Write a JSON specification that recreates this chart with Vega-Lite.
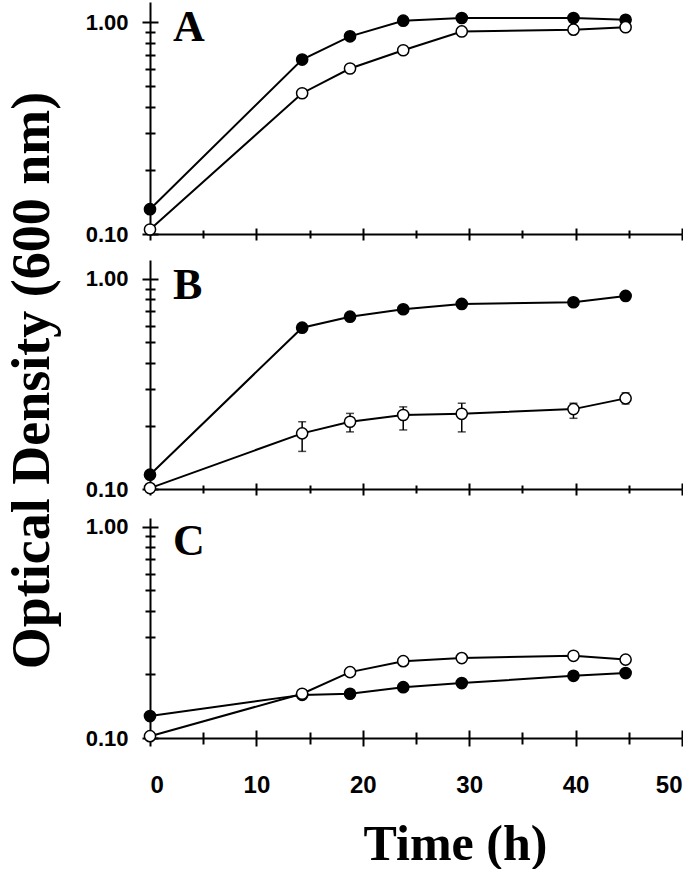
{
  "$schema": "https://vega.github.io/schema/vega-lite/v6.json",
  "background": "white",
  "padding": {"left": 6, "top": 2, "right": 0, "bottom": 0},
  "config": {
    "view": {"stroke": null},
    "axis": {
      "grid": false,
      "domainColor": "black",
      "domainWidth": 2,
      "tickColor": "black",
      "tickWidth": 2,
      "labelColor": "black",
      "labelFont": "Liberation Sans",
      "labelFontWeight": "bold",
      "titleColor": "black"
    }
  },
  "title": {
    "text": "Optical Density (600 nm)",
    "orient": "left",
    "anchor": "middle",
    "frame": "bounds",
    "font": "Liberation Serif",
    "fontSize": 54,
    "fontWeight": "bold",
    "color": "black",
    "offset": 25,
    "dx": 55
  },
  "data": {
    "values": [
      {"panel": "A", "series": "filled", "time": 0, "od": 0.131},
      {"panel": "A", "series": "filled", "time": 14.3, "od": 0.668},
      {"panel": "A", "series": "filled", "time": 18.8, "od": 0.86},
      {"panel": "A", "series": "filled", "time": 23.8, "od": 1.02},
      {"panel": "A", "series": "filled", "time": 29.3, "od": 1.05},
      {"panel": "A", "series": "filled", "time": 39.8, "od": 1.05},
      {"panel": "A", "series": "filled", "time": 44.7, "od": 1.03},
      {"panel": "A", "series": "open", "time": 0, "od": 0.105},
      {"panel": "A", "series": "open", "time": 14.3, "od": 0.463},
      {"panel": "A", "series": "open", "time": 18.8, "od": 0.606},
      {"panel": "A", "series": "open", "time": 23.8, "od": 0.739},
      {"panel": "A", "series": "open", "time": 29.3, "od": 0.907},
      {"panel": "A", "series": "open", "time": 39.8, "od": 0.925},
      {"panel": "A", "series": "open", "time": 44.7, "od": 0.95},
      {"panel": "B", "series": "filled", "time": 0, "od": 0.117},
      {"panel": "B", "series": "filled", "time": 14.3, "od": 0.586},
      {"panel": "B", "series": "filled", "time": 18.8, "od": 0.661},
      {"panel": "B", "series": "filled", "time": 23.8, "od": 0.717},
      {"panel": "B", "series": "filled", "time": 29.3, "od": 0.76},
      {"panel": "B", "series": "filled", "time": 39.8, "od": 0.774},
      {"panel": "B", "series": "filled", "time": 44.7, "od": 0.83},
      {"panel": "B", "series": "open", "time": 0, "od": 0.101},
      {"panel": "B", "series": "open", "time": 14.3, "od": 0.184, "lo": 0.151, "hi": 0.209},
      {"panel": "B", "series": "open", "time": 18.8, "od": 0.209, "lo": 0.187, "hi": 0.229},
      {"panel": "B", "series": "open", "time": 23.8, "od": 0.225, "lo": 0.191, "hi": 0.246},
      {"panel": "B", "series": "open", "time": 29.3, "od": 0.228, "lo": 0.187, "hi": 0.256},
      {"panel": "B", "series": "open", "time": 39.8, "od": 0.24, "lo": 0.217, "hi": 0.256},
      {"panel": "B", "series": "open", "time": 44.7, "od": 0.27, "lo": 0.254, "hi": 0.287},
      {"panel": "C", "series": "filled", "time": 0, "od": 0.127},
      {"panel": "C", "series": "filled", "time": 14.3, "od": 0.16},
      {"panel": "C", "series": "filled", "time": 18.8, "od": 0.162},
      {"panel": "C", "series": "filled", "time": 23.8, "od": 0.174},
      {"panel": "C", "series": "filled", "time": 29.3, "od": 0.182},
      {"panel": "C", "series": "filled", "time": 39.8, "od": 0.197},
      {"panel": "C", "series": "filled", "time": 44.7, "od": 0.203},
      {"panel": "C", "series": "open", "time": 0, "od": 0.102},
      {"panel": "C", "series": "open", "time": 14.3, "od": 0.162},
      {"panel": "C", "series": "open", "time": 18.8, "od": 0.205},
      {"panel": "C", "series": "open", "time": 23.8, "od": 0.231},
      {"panel": "C", "series": "open", "time": 29.3, "od": 0.239},
      {"panel": "C", "series": "open", "time": 39.8, "od": 0.245},
      {"panel": "C", "series": "open", "time": 44.7, "od": 0.235}
    ]
  },
  "spacing": 15,
  "vconcat": [
    {
      "width": 532,
      "height": 232,
      "title": {"text": "A", "anchor": "start", "frame": "group", "dx": 23, "dy": 48, "font": "Liberation Serif", "fontSize": 44, "fontWeight": "bold", "color": "black", "offset": 0},
      "transform": [{"filter": "datum.panel == 'A'"}],
      "resolve": {"axis": {"x": "independent", "y": "independent"}},
      "layer": [
        {
          "mark": {"type": "line", "color": "black", "strokeWidth": 2},
          "encoding": {
            "detail": {"field": "series"},
            "x": {"field": "time", "type": "quantitative", "scale": {"domain": [0, 50]},
              "axis": {"values": [0, 5, 10, 15, 20, 25, 30, 35, 40, 45, 50], "labels": false, "title": null, "tickSize": {"condition": {"test": "datum.value % 10 == 0", "value": 6}, "value": 4}}},
            "y": {"field": "od", "type": "quantitative", "scale": {"type": "log", "domain": [0.1, 1.25]},
              "axis": {"values": [0.1, 0.2, 0.3, 0.4, 0.5, 0.6, 0.7, 0.8, 0.9, 1.0], "title": null, "labelFontSize": 22, "labelPadding": 14, "labelExpr": "datum.value == 0.1 || datum.value == 1 ? format(datum.value, '.2f') : ''", "tickSize": {"condition": {"test": "datum.value == 0.1 || datum.value == 1", "value": 8}, "value": 5}}}
          }
        },
        {
          "mark": {"type": "point", "shape": "circle", "size": 125, "filled": true, "stroke": "black", "strokeWidth": 1.5, "opacity": 1},
          "encoding": {
            "fill": {"field": "series", "type": "nominal", "scale": {"domain": ["filled", "open"], "range": ["black", "white"]}, "legend": null},
            "x": {"field": "time", "type": "quantitative", "scale": {"domain": [0, 50]},
              "axis": {"orient": "bottom", "values": [0, 5, 10, 15, 20, 25, 30, 35, 40, 45, 50], "labels": false, "domain": false, "title": null, "tickSize": {"condition": {"test": "datum.value % 10 == 0", "value": -6}, "value": -4}}},
            "y": {"field": "od", "type": "quantitative", "scale": {"type": "log", "domain": [0.1, 1.25]},
              "axis": {"orient": "left", "values": [0.1, 0.2, 0.3, 0.4, 0.5, 0.6, 0.7, 0.8, 0.9, 1.0], "labels": false, "domain": false, "title": null, "tickSize": {"condition": {"test": "datum.value == 0.1 || datum.value == 1", "value": -8}, "value": -5}}}
          }
        }
      ]
    },
    {
      "width": 532,
      "height": 229,
      "title": {"text": "B", "anchor": "start", "frame": "group", "dx": 23, "dy": 48, "font": "Liberation Serif", "fontSize": 44, "fontWeight": "bold", "color": "black", "offset": 0},
      "transform": [{"filter": "datum.panel == 'B'"}],
      "resolve": {"axis": {"x": "independent", "y": "independent"}},
      "layer": [
        {
          "mark": {"type": "line", "color": "black", "strokeWidth": 2},
          "encoding": {
            "detail": {"field": "series"},
            "x": {"field": "time", "type": "quantitative", "scale": {"domain": [0, 50]},
              "axis": {"values": [0, 5, 10, 15, 20, 25, 30, 35, 40, 45, 50], "labels": false, "title": null, "tickSize": {"condition": {"test": "datum.value % 10 == 0", "value": 6}, "value": 4}}},
            "y": {"field": "od", "type": "quantitative", "scale": {"type": "log", "domain": [0.1, 1.23]},
              "axis": {"values": [0.1, 0.2, 0.3, 0.4, 0.5, 0.6, 0.7, 0.8, 0.9, 1.0], "title": null, "labelFontSize": 22, "labelPadding": 14, "labelExpr": "datum.value == 0.1 || datum.value == 1 ? format(datum.value, '.2f') : ''", "tickSize": {"condition": {"test": "datum.value == 0.1 || datum.value == 1", "value": 8}, "value": 5}}}
          }
        },
        {
          "transform": [{"filter": "isValid(datum.lo)"}],
          "mark": {"type": "errorbar", "color": "black", "ticks": {"size": 8, "thickness": 1.5}, "rule": {"strokeWidth": 1.5}},
          "encoding": {
            "x": {"field": "time", "type": "quantitative", "scale": {"domain": [0, 50]}, "axis": null},
            "y": {"field": "lo", "type": "quantitative", "scale": {"type": "log", "domain": [0.1, 1.23]}, "axis": null},
            "y2": {"field": "hi"}
          }
        },
        {
          "mark": {"type": "point", "shape": "circle", "size": 125, "filled": true, "stroke": "black", "strokeWidth": 1.5, "opacity": 1},
          "encoding": {
            "fill": {"field": "series", "type": "nominal", "scale": {"domain": ["filled", "open"], "range": ["black", "white"]}, "legend": null},
            "x": {"field": "time", "type": "quantitative", "scale": {"domain": [0, 50]},
              "axis": {"orient": "bottom", "values": [0, 5, 10, 15, 20, 25, 30, 35, 40, 45, 50], "labels": false, "domain": false, "title": null, "tickSize": {"condition": {"test": "datum.value % 10 == 0", "value": -6}, "value": -4}}},
            "y": {"field": "od", "type": "quantitative", "scale": {"type": "log", "domain": [0.1, 1.23]},
              "axis": {"orient": "left", "values": [0.1, 0.2, 0.3, 0.4, 0.5, 0.6, 0.7, 0.8, 0.9, 1.0], "labels": false, "domain": false, "title": null, "tickSize": {"condition": {"test": "datum.value == 0.1 || datum.value == 1", "value": -8}, "value": -5}}}
          }
        }
      ]
    },
    {
      "width": 532,
      "height": 220,
      "title": {"text": "C", "anchor": "start", "frame": "group", "dx": 23, "dy": 48, "font": "Liberation Serif", "fontSize": 44, "fontWeight": "bold", "color": "black", "offset": 0},
      "transform": [{"filter": "datum.panel == 'C'"}],
      "resolve": {"axis": {"x": "independent", "y": "independent"}},
      "layer": [
        {
          "mark": {"type": "line", "color": "black", "strokeWidth": 2},
          "encoding": {
            "detail": {"field": "series"},
            "x": {"field": "time", "type": "quantitative", "scale": {"domain": [0, 50]},
              "axis": {"values": [0, 5, 10, 15, 20, 25, 30, 35, 40, 45, 50], "title": "Time (h)", "titleFont": "Liberation Serif", "titleFontSize": 50, "titleFontWeight": "bold", "titlePadding": 22, "titleX": 305, "labelFontSize": 24, "labelPadding": 27, "labelExpr": "datum.value % 10 == 0 ? datum.label : ''", "tickSize": {"condition": {"test": "datum.value % 10 == 0", "value": 8}, "value": 6}}},
            "y": {"field": "od", "type": "quantitative", "scale": {"type": "log", "domain": [0.1, 1.1]},
              "axis": {"values": [0.1, 0.2, 0.3, 0.4, 0.5, 0.6, 0.7, 0.8, 0.9, 1.0], "title": null, "labelFontSize": 22, "labelPadding": 14, "labelExpr": "datum.value == 0.1 || datum.value == 1 ? format(datum.value, '.2f') : ''", "tickSize": {"condition": {"test": "datum.value == 0.1 || datum.value == 1", "value": 8}, "value": 5}}}
          }
        },
        {
          "mark": {"type": "point", "shape": "circle", "size": 125, "filled": true, "stroke": "black", "strokeWidth": 1.5, "opacity": 1},
          "encoding": {
            "fill": {"field": "series", "type": "nominal", "scale": {"domain": ["filled", "open"], "range": ["black", "white"]}, "legend": null},
            "x": {"field": "time", "type": "quantitative", "scale": {"domain": [0, 50]},
              "axis": {"orient": "bottom", "values": [0, 5, 10, 15, 20, 25, 30, 35, 40, 45, 50], "labels": false, "domain": false, "title": null, "tickSize": {"condition": {"test": "datum.value % 10 == 0", "value": -8}, "value": -6}}},
            "y": {"field": "od", "type": "quantitative", "scale": {"type": "log", "domain": [0.1, 1.1]},
              "axis": {"orient": "left", "values": [0.1, 0.2, 0.3, 0.4, 0.5, 0.6, 0.7, 0.8, 0.9, 1.0], "labels": false, "domain": false, "title": null, "tickSize": {"condition": {"test": "datum.value == 0.1 || datum.value == 1", "value": -8}, "value": -5}}}
          }
        }
      ]
    }
  ]
}
